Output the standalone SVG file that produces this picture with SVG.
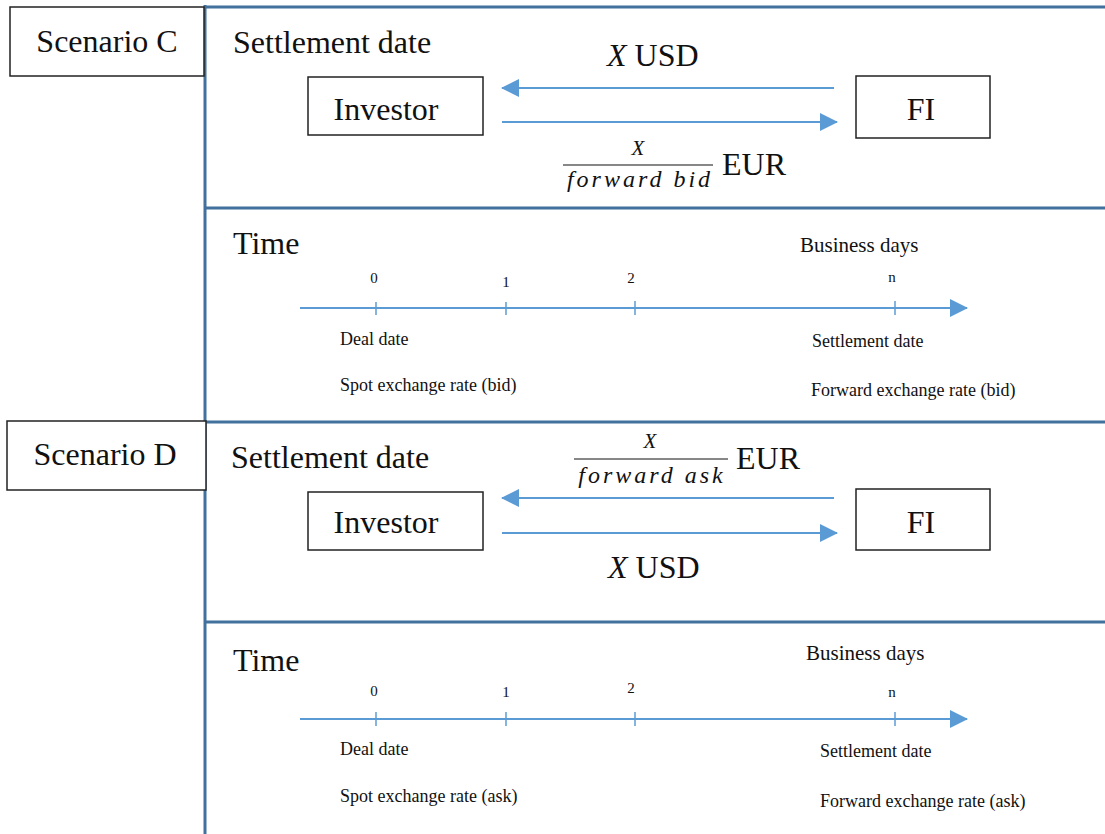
<svg xmlns="http://www.w3.org/2000/svg" width="1105" height="834" viewBox="0 0 1105 834">
<style>
.frame{stroke:#41719C;stroke-width:3;fill:none}
.box{fill:#fff;stroke:#222;stroke-width:1.5}
.t{font-family:"Liberation Serif","Times New Roman",serif;fill:#111}
.big{font-size:32px}
.med{font-size:21px}
.sm{font-size:18px}
.xs{font-size:15px}
.m{font-family:"Liberation Serif","Times New Roman",serif;font-style:italic;fill:#111}
.arr{stroke:#5B9BD5;stroke-width:2;fill:none}
.tick{stroke:#5B9BD5;stroke-width:1.5}
.frac{stroke:#111;stroke-width:1.2}
</style>
<defs>
<marker id="ahl" markerWidth="18" markerHeight="18" refX="17" refY="9" orient="auto" markerUnits="userSpaceOnUse" viewBox="0 0 18 18">
<path d="M0,0 L18,9 L0,18 Z" fill="#5B9BD5"/>
</marker>
</defs>
<rect width="1105" height="834" fill="#fff"/>
<g id="frame">
<line class="frame" x1="205" y1="5" x2="205" y2="834"/>
<line class="frame" x1="204" y1="7" x2="1105" y2="7"/>
<line class="frame" x1="204" y1="208" x2="1105" y2="208"/>
<line class="frame" x1="204" y1="422" x2="1105" y2="422"/>
<line class="frame" x1="204" y1="622" x2="1105" y2="622"/>
</g>
<g id="scenarioC">
<rect class="box" x="10" y="7" width="194" height="69"/>
<text class="t big" x="107" y="52" text-anchor="middle">Scenario C</text>
</g>
<g id="scenarioD">
<rect class="box" x="7" y="421" width="199" height="69"/>
<text class="t big" x="105" y="465" text-anchor="middle">Scenario D</text>
</g>
<g id="labelsC">
<text class="t big" x="233" y="53">Settlement date</text>
<text class="t big" x="233" y="254">Time</text>
<text class="t med" x="800" y="252">Business days</text>
</g>
<g id="labelsD">
<text class="t big" x="231" y="468">Settlement date</text>
<text class="t big" x="233" y="671">Time</text>
<text class="t med" x="806" y="660">Business days</text>
</g>
<g id="investorC">
<rect class="box" x="308" y="77" width="175" height="58"/>
<text class="t big" x="386" y="120" text-anchor="middle">Investor</text>
</g>
<g id="fiC">
<rect class="box" x="856" y="76" width="134" height="62"/>
<text class="t big" x="921" y="120" text-anchor="middle">FI</text>
</g>
<g id="investorD">
<rect class="box" x="308" y="492" width="175" height="58"/>
<text class="t big" x="386" y="533" text-anchor="middle">Investor</text>
</g>
<g id="fiD">
<rect class="box" x="856" y="489" width="134" height="61"/>
<text class="t big" x="921" y="533" text-anchor="middle">FI</text>
</g>
<g id="connectors">
<line class="arr" x1="834" y1="88" x2="502" y2="88" marker-end="url(#ahl)"/>
<line class="arr" x1="502" y1="122" x2="837" y2="122" marker-end="url(#ahl)"/>
<line class="arr" x1="834" y1="498" x2="502" y2="498" marker-end="url(#ahl)"/>
<line class="arr" x1="502" y1="533" x2="837" y2="533" marker-end="url(#ahl)"/>
<line class="arr" x1="300" y1="308" x2="967" y2="308" marker-end="url(#ahl)"/>
<line class="arr" x1="300" y1="719" x2="967" y2="719" marker-end="url(#ahl)"/>
</g>
<g id="flowLabelsC">
<text x="607" y="66" class="t big"><tspan class="m">X</tspan> USD</text>
<text class="m" x="638" y="155" font-size="21" text-anchor="middle">X</text>
<line class="frac" x1="563" y1="165" x2="713" y2="165"/>
<text class="m" x="640" y="187" font-size="24" letter-spacing="3" text-anchor="middle">forward bid</text>
<text class="t big" x="722" y="175">EUR</text>
</g>
<g id="flowLabelsD">
<text class="m" x="650" y="448" font-size="21" text-anchor="middle">X</text>
<line class="frac" x1="574" y1="459" x2="728" y2="459"/>
<text class="m" x="652" y="483" font-size="24" letter-spacing="3" text-anchor="middle">forward ask</text>
<text class="t big" x="736" y="469">EUR</text>
<text x="608" y="578" class="t big"><tspan class="m">X</tspan> USD</text>
</g>
<g id="timelineC">
<line class="tick" x1="376" y1="302" x2="376" y2="315"/>
<line class="tick" x1="506" y1="302" x2="506" y2="315"/>
<line class="tick" x1="635" y1="301" x2="635" y2="315"/>
<line class="tick" x1="895" y1="301" x2="895" y2="315"/>
<text class="t xs" x="374" y="283" text-anchor="middle">0</text>
<text class="t xs" x="506" y="287" text-anchor="middle">1</text>
<text class="t xs" x="631" y="283" text-anchor="middle">2</text>
<text class="t xs" x="892" y="282" text-anchor="middle">n</text>
<text class="t sm" x="340" y="345">Deal date</text>
<text class="t sm" x="340" y="391">Spot exchange rate (bid)</text>
<text class="t sm" x="812" y="347">Settlement date</text>
<text class="t sm" x="811" y="396">Forward exchange rate (bid)</text>
</g>
<g id="timelineD">
<line class="tick" x1="376" y1="712" x2="376" y2="726"/>
<line class="tick" x1="506" y1="712" x2="506" y2="726"/>
<line class="tick" x1="635" y1="712" x2="635" y2="726"/>
<line class="tick" x1="895" y1="712" x2="895" y2="726"/>
<text class="t xs" x="374" y="696" text-anchor="middle">0</text>
<text class="t xs" x="506" y="697" text-anchor="middle">1</text>
<text class="t xs" x="631" y="693" text-anchor="middle">2</text>
<text class="t xs" x="892" y="697" text-anchor="middle">n</text>
<text class="t sm" x="340" y="755">Deal date</text>
<text class="t sm" x="340" y="802">Spot exchange rate (ask)</text>
<text class="t sm" x="820" y="757">Settlement date</text>
<text class="t sm" x="820" y="807">Forward exchange rate (ask)</text>
</g>
</svg>
